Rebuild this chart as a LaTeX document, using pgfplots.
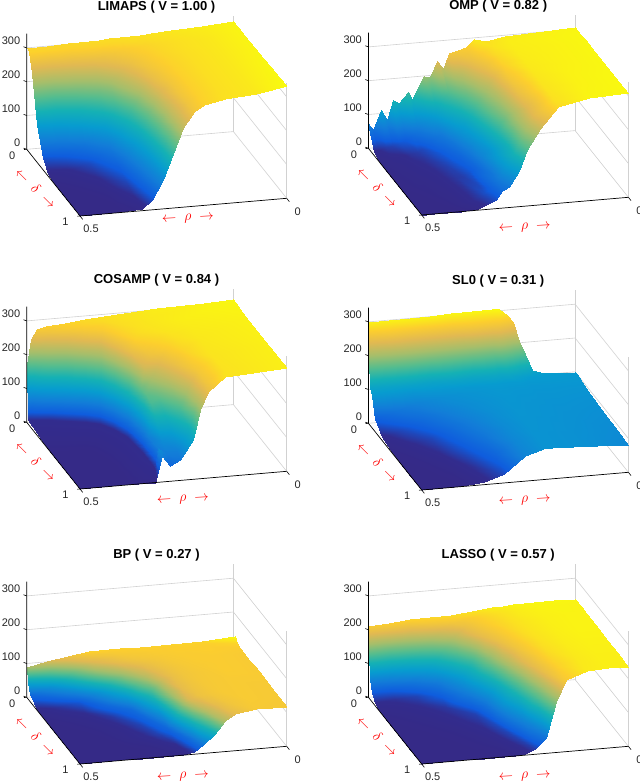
\documentclass[border=0pt]{standalone}
\usepackage{fontspec}
\setmainfont{Liberation Sans}
\usepackage{pgfplots}
\pgfplotsset{compat=1.18}
\definecolor{tk}{rgb}{0.15,0.15,0.15}
\definecolor{gl}{gray}{0.82}
\pgfplotsset{
 colormap={parula}{rgb255(0cm)=(53,42,135) rgb255(4cm)=(50,44,142) rgb255(11cm)=(15,92,221) rgb255(22cm)=(18,125,216) rgb255(33cm)=(7,156,207) rgb255(44cm)=(21,177,180) rgb255(55cm)=(89,189,140) rgb255(66cm)=(165,190,107) rgb255(78cm)=(225,185,82) rgb255(89cm)=(252,206,46) rgb255(100cm)=(249,251,14)},
 pan/.style={x={(206.7pt,17.7pt)},y={(-53.3pt,66.7pt)},z={(0pt,0.338pt)},
  xmin=0,xmax=1,ymin=0,ymax=1,zmin=0,zmax=342,clip=false,
  anchor=origin,colormap name=parula,
  xtick={0,1},xticklabels={0.5,0},ytick={0,1},yticklabels={1,0},ztick={0,100,200,300},
  axis line style={draw=none},tick style={draw=none},
  /pgf/number format/assume math mode=true,
  ticklabel style={font=\fontsize{11}{11}\selectfont,text=tk},
  xticklabel style={anchor=center,xshift=11pt,yshift=-13pt},
  yticklabel style={anchor=center,xshift=-14.5pt,yshift=-6pt},
  zticklabel style={anchor=east,xshift=-3pt,yshift=7pt},
  },
 sf/.style={surf,shader=interp,z buffer=sort,point meta=z},
}
\newcommand{\backbox}{%
 \addplot3[gl,line width=0.6pt] coordinates {(0,1,0)(1,1,0)(1,0,0)};
 \addplot3[gl,line width=0.6pt] coordinates {(0,1,100)(1,1,100)(1,0,100)};
 \addplot3[gl,line width=0.6pt] coordinates {(0,1,200)(1,1,200)(1,0,200)};
 \addplot3[gl,line width=0.6pt] coordinates {(0,1,300)(1,1,300)(1,0,300)};
 \addplot3[gl,line width=0.6pt] coordinates {(1,1,0)(1,1,342)};
 \addplot3[gl,line width=0.6pt] coordinates {(1,0,0)(1,0,342)};
}
\newcommand{\front}{%
 \addplot3[black,line width=0.7pt] coordinates {(1,0,0)(0,0,0)(0,1,0)(0,1,342)};
 \addplot3[black,line width=0.6pt] coordinates {(0,0,0)(0,-.05,0)};
 \addplot3[black,line width=0.6pt] coordinates {(1,0,0)(1,-.05,0)};
 \addplot3[black,line width=0.6pt] coordinates {(0,0,0)(-.013,0,0)};
 \addplot3[black,line width=0.6pt] coordinates {(0,1,0)(-.013,1,0)};
 \addplot3[black,line width=0.6pt] coordinates {(0,1,0)(-.01,1.02,0)};
 \addplot3[black,line width=0.6pt] coordinates {(0,1,100)(-.01,1.02,100)};
 \addplot3[black,line width=0.6pt] coordinates {(0,1,200)(-.01,1.02,200)};
 \addplot3[black,line width=0.6pt] coordinates {(0,1,300)(-.01,1.02,300)};
}
% #1,#2 origin in px, #3 title, #4,#5 rho label offset
\newcommand{\anno}[5]{%
 \node[font=\bfseries\fontsize{13}{13}\selectfont,text=black] at ({#1+76.5},{-#2+209}) {#3};
 \node[text=red,rotate=3,font=\fontsize{15}{15}\selectfont] at ({#1+#4},{-#2-#5-2}) {$\leftarrow\;\rho\;\rightarrow$};
 \node[text=red,rotate=-45,font=\fontsize{15}{15}\selectfont] at ({#1-44},{-#2+28}) {$\leftarrow\;\delta\;\rightarrow$};
}
\begin{document}
\begin{tikzpicture}[x=1pt,y=1pt]
\useasboundingbox (0,0) rectangle (640,-782);
% ---- LIMAPS
\begin{axis}[pan,at={(80pt,-216pt)},point meta max=331,point meta min=0]
\backbox
\addplot3[sf,mesh/cols=13] coordinates {
(0,0,0)(.1,0,0)(.2,0,0)(.3,0,4)(.35,0,30)(.4,0,85)(.45,0,160)(.5,0,235)(.55,0,280)(.6,0,298)(.7,0,310)(.85,0,316)(1,0,331)
(0,.15,0)(.1,.15,0)(.2,.15,1)(.3,.15,12)(.35,.15,45)(.4,.15,95)(.45,.15,165)(.5,.15,235)(.55,.15,278)(.6,.15,296)(.7,.15,308)(.85,.15,316)(1,.15,329)
(0,.3,0)(.1,.3,0)(.2,.3,4)(.3,.3,25)(.35,.3,60)(.4,.3,110)(.45,.3,175)(.5,.3,240)(.55,.3,280)(.6,.3,296)(.7,.3,308)(.85,.3,316)(1,.3,328)
(0,.45,0)(.1,.45,4)(.2,.45,12)(.3,.45,42)(.35,.45,80)(.4,.45,130)(.45,.45,195)(.5,.45,250)(.55,.45,282)(.6,.45,297)(.7,.45,308)(.85,.45,316)(1,.45,327)
(0,.6,6)(.1,.6,12)(.2,.6,28)(.3,.6,70)(.35,.6,115)(.4,.6,170)(.45,.6,230)(.5,.6,270)(.55,.6,288)(.6,.6,298)(.7,.6,308)(.85,.6,316)(1,.6,326)
(0,.7,32)(.1,.7,38)(.2,.7,65)(.3,.7,115)(.35,.7,160)(.4,.7,215)(.45,.7,255)(.5,.7,280)(.55,.7,292)(.6,.7,300)(.7,.7,308)(.85,.7,316)(1,.7,326)
(0,.8,110)(.1,.8,115)(.2,.8,145)(.3,.8,190)(.35,.8,220)(.4,.8,250)(.45,.8,272)(.5,.8,287)(.55,.8,296)(.6,.8,302)(.7,.8,309)(.85,.8,316)(1,.8,326)
(0,.85,165)(.1,.85,170)(.2,.85,195)(.3,.85,230)(.35,.85,250)(.4,.85,268)(.45,.85,282)(.5,.85,292)(.55,.85,298)(.6,.85,303)(.7,.85,309)(.85,.85,316)(1,.85,326)
(0,.9,245)(.1,.9,245)(.2,.9,255)(.3,.9,268)(.35,.9,276)(.4,.9,283)(.45,.9,290)(.5,.9,296)(.55,.9,300)(.6,.9,304)(.7,.9,310)(.85,.9,317)(1,.9,326)
(0,.95,298)(.1,.95,298)(.2,.95,298)(.3,.95,298)(.35,.95,300)(.4,.95,302)(.45,.95,303)(.5,.95,305)(.55,.95,306)(.6,.95,308)(.7,.95,312)(.85,.95,318)(1,.95,326)
(0,1,300)(.1,1,301)(.2,1,303)(.3,1,305)(.35,1,306)(.4,1,307)(.45,1,308)(.5,1,309)(.55,1,310)(.6,1,312)(.7,1,315)(.85,1,320)(1,1,326)
};
\front
\end{axis}
\anno{80}{216}{LIMAPS ( V = 1.00 )}{108}{1}
% ---- OMP
\begin{axis}[pan,at={(421.7pt,-215pt)},point meta max=310,point meta min=0]
\backbox
\addplot3[sf,mesh/cols=20] coordinates {
(0,0,0)(.02,0,0)(.06,0,0)(.09,0,0)(.12,0,0)(.15,0,0)(.19,0,0)(.21,0,1)(.27,0,3)(.3,0,10)(.33,0,18)(.36,0,27)(.39,0,50)(.42,0,62)(.47,0,105)(.51,0,165)(.57,0,225)(.66,0,285)(.81,0,305)(1,0,308)
(0,.1,0)(.02,.1,0)(.06,.1,0)(.09,.1,0)(.12,.1,0)(.15,.1,1)(.19,.1,3)(.21,.1,5)(.27,.1,12)(.3,.1,18)(.33,.1,28)(.36,.1,40)(.39,.1,62)(.42,.1,85)(.47,.1,135)(.51,.1,185)(.57,.1,245)(.66,.1,290)(.81,.1,304)(1,.1,308)
(0,.25,0)(.02,.25,0)(.06,.25,0)(.09,.25,1)(.12,.25,2)(.15,.25,3)(.19,.25,5)(.21,.25,7)(.27,.25,15)(.3,.25,22)(.33,.25,25)(.36,.25,48)(.39,.25,60)(.42,.25,95)(.47,.25,130)(.51,.25,195)(.57,.25,240)(.66,.25,292)(.81,.25,303)(1,.25,308)
(0,.4,0)(.02,.4,1)(.06,.4,2)(.09,.4,3)(.12,.4,3)(.15,.4,5)(.19,.4,7)(.21,.4,9)(.27,.4,18)(.3,.4,20)(.33,.4,30)(.36,.4,42)(.39,.4,75)(.42,.4,90)(.47,.4,150)(.51,.4,190)(.57,.4,255)(.66,.4,294)(.81,.4,303)(1,.4,307)
(0,.55,1)(.02,.55,2)(.06,.55,3)(.09,.55,4)(.12,.55,6)(.15,.55,7)(.19,.55,10)(.21,.55,13)(.27,.55,22)(.3,.55,30)(.33,.55,42)(.36,.55,62)(.39,.55,85)(.42,.55,110)(.47,.55,175)(.51,.55,205)(.57,.55,265)(.66,.55,296)(.81,.55,302)(1,.55,307)
(0,.7,2)(.02,.7,3)(.06,.7,5)(.09,.7,6)(.12,.7,8)(.15,.7,11)(.19,.7,15)(.21,.7,18)(.27,.7,32)(.3,.7,45)(.33,.7,62)(.36,.7,90)(.39,.7,110)(.42,.7,140)(.47,.7,195)(.51,.7,225)(.57,.7,278)(.66,.7,298)(.81,.7,302)(1,.7,307)
(0,.8,3)(.02,.8,4)(.06,.8,7)(.09,.8,9)(.12,.8,12)(.15,.8,16)(.19,.8,20)(.21,.8,25)(.27,.8,55)(.3,.8,65)(.33,.8,95)(.36,.8,120)(.39,.8,150)(.42,.8,175)(.47,.8,225)(.51,.8,250)(.57,.8,285)(.66,.8,299)(.81,.8,302)(1,.8,307)
(0,.9,8)(.02,.9,10)(.06,.9,20)(.09,.9,22)(.12,.9,30)(.15,.9,35)(.19,.9,50)(.21,.9,60)(.27,.9,100)(.3,.9,115)(.33,.9,150)(.36,.9,165)(.39,.9,200)(.42,.9,215)(.47,.9,255)(.51,.9,270)(.57,.9,292)(.66,.9,300)(.81,.9,303)(1,.9,307)
(0,1,74)(.02,1,53)(.06,1,110)(.09,1,80)(.12,1,137)(.15,1,126)(.19,1,156)(.21,1,134)(.27,1,200)(.3,1,194)(.33,1,242)(.36,1,216)(.39,1,263)(.42,1,267)(.47,1,274)(.51,1,297)(.57,1,289)(.66,1,299)(.81,1,302)(1,1,306)
};
\front
\end{axis}
\anno{421.7}{215}{OMP ( V = 0.82 )}{103}{11}
% ---- COSAMP
\begin{axis}[pan,at={(80pt,-489pt)},point meta max=315,point meta min=0]
\backbox
\addplot3[sf,mesh/cols=11] coordinates {
(0,0,0)(.2,0,0)(.363,0,0)(.395,0,76)(.435,0,44)(.484,0,61)(.548,0,117)(.58,0,204)(.62,0,255)(.7,0,296)(1,0,306)
(0,0,0)(.23,.036,0)(.385,.06,8)(.4,.062,85)(.44,.069,68)(.49,.076,72)(.55,.086,125)(.585,.09,210)(.63,.098,265)(.72,.11,296)(1,.156,306)
(0,0,0)(.24,.096,0)(.4,.16,10)(.415,.166,70)(.44,.176,85)(.49,.196,105)(.54,.216,165)(.58,.232,225)(.63,.252,270)(.72,.288,297)(1,.4,306)
(0,0,0)(.24,.186,0)(.4,.31,12)(.41,.318,70)(.43,.333,165)(.47,.364,175)(.52,.403,225)(.56,.434,258)(.62,.48,285)(.72,.558,300)(1,.775,308)
(0,0,0)(.24,.24,0)(.4,.4,12)(.41,.41,75)(.43,.43,175)(.47,.47,215)(.52,.52,255)(.56,.56,278)(.62,.62,295)(.72,.72,303)(1,1,312)
(0,0,0)(.24,.279,0)(.395,.46,12)(.405,.471,80)(.42,.488,180)(.44,.512,235)(.48,.558,262)(.53,.616,282)(.6,.698,298)(.7,.814,305)(.859,1,308)
(0,0,0)(.23,.365,0)(.384,.61,12)(.39,.619,90)(.4,.635,190)(.415,.659,255)(.44,.698,283)(.47,.746,292)(.5,.794,296)(.56,.889,300)(.63,1,304)
(0,0,0)(.21,.444,0)(.35,.74,12)(.354,.748,90)(.36,.761,180)(.37,.782,250)(.385,.814,280)(.4,.846,287)(.42,.888,292)(.45,.951,296)(.473,1,298)
(0,0,0)(.19,.505,0)(.312,.83,12)(.315,.838,90)(.32,.851,180)(.33,.878,255)(.34,.904,278)(.35,.931,285)(.36,.958,290)(.37,.984,293)(.376,1,295)
(0,0,0)(.15,.528,0)(.25,.88,12)(.252,.887,90)(.256,.901,180)(.262,.922,255)(.267,.94,275)(.272,.958,283)(.277,.975,287)(.281,.989,289)(.284,1,290)
(0,0,0)(.1,.535,0)(.172,.92,12)(.173,.926,90)(.175,.936,170)(.178,.952,240)(.18,.963,265)(.182,.974,276)(.184,.984,281)(.186,.995,284)(.187,1,285)
(0,0,0)(.05,.53,0)(.09,.95,12)(.09,.955,80)(.091,.962,150)(.092,.97,215)(.093,.978,245)(.093,.984,262)(.094,.99,272)(.094,.996,278)(.095,1,280)
(0,0,0)(.03,.53,0)(.045,.965,12)(.045,.969,70)(.046,.974,140)(.047,.98,200)(.047,.985,235)(.048,.989,252)(.049,.993,262)(.05,.997,268)(.05,1,272)
(0,0,0)(.01,.53,0)(.02,.972,12)(.02,.976,60)(.02,.98,115)(.02,.984,165)(.02,.988,200)(.02,.991,220)(.02,.994,232)(.02,.997,240)(.02,1,245)
(0,0,0)(0,.6,0)(0,.975,12)(0,.98,50)(0,.983,80)(0,.986,100)(0,.989,120)(0,.992,135)(0,.995,150)(0,.998,160)(0,1,170)
};
\front
\end{axis}
\anno{80}{489}{COSAMP ( V = 0.84 )}{103}{9}
% ---- SL0
\begin{axis}[pan,at={(421.7pt,-490pt)},point meta max=308,point meta min=0]
\backbox
\addplot3[sf,mesh/cols=15] coordinates {
(0,0,0)(.1,0,0)(.2,0,0)(.3,0,8)(.4,0,25)(.5,0,75)(.6,0,92)(.63,0,92)(.67,0,91)(.7,0,91)(.73,0,90)(.76,0,89)(.79,0,89)(.85,0,87)(1,0,80)
(0,.2,0)(.1,.2,0)(.2,.2,3)(.3,.2,15)(.4,.2,42)(.5,.2,78)(.6,.2,92)(.63,.2,92)(.67,.2,91)(.7,.2,91)(.73,.2,90)(.76,.2,90)(.79,.2,89)(.85,.2,88)(1,.2,83)
(0,.4,0)(.1,.4,2)(.2,.4,9)(.3,.4,32)(.4,.4,60)(.5,.4,83)(.6,.4,93)(.63,.4,93)(.67,.4,92)(.7,.4,92)(.73,.4,91)(.76,.4,91)(.79,.4,90)(.85,.4,89)(1,.4,86)
(0,.6,2)(.1,.6,9)(.2,.6,24)(.3,.6,52)(.4,.6,73)(.5,.6,87)(.6,.6,94)(.63,.6,94)(.67,.6,93)(.7,.6,93)(.73,.6,92)(.76,.6,92)(.79,.6,91)(.85,.6,91)(1,.6,89)
(0,.75,8)(.1,.75,25)(.2,.75,47)(.3,.75,70)(.4,.75,83)(.5,.75,90)(.6,.75,95)(.63,.75,95)(.67,.75,94)(.7,.75,94)(.73,.75,94)(.76,.75,93)(.79,.75,93)(.85,.75,93)(1,.75,92)
(0,.87,38)(.1,.87,58)(.2,.87,72)(.3,.87,84)(.4,.87,90)(.5,.87,94)(.6,.87,97)(.63,.87,97)(.67,.87,96)(.7,.87,96)(.73,.87,96)(.76,.87,95)(.79,.87,95)(.85,.87,95)(1,.87,95)
(0,.93,95)(.1,.93,95)(.2,.93,92)(.3,.93,95)(.4,.93,97)(.5,.93,98)(.6,.93,100)(.63,.93,100)(.67,.93,100)(.7,.93,100)(.73,.93,99)(.76,.93,98)(.79,.93,98)(.85,.93,98)(1,.93,97)
(0,.97,114)(.1,.97,112)(.2,.97,110)(.3,.97,112)(.4,.97,114)(.5,.97,116)(.6,.97,118)(.63,.97,118)(.67,.97,118)(.7,.97,110)(.73,.97,108)(.76,.97,103)(.79,.97,101)(.85,.97,100)(1,.97,98)
(0,.98,191)(.1,.98,190)(.2,.98,188)(.3,.98,188)(.4,.98,188)(.5,.98,188)(.6,.98,188)(.63,.98,185)(.67,.98,165)(.7,.98,140)(.73,.98,125)(.76,.98,110)(.79,.98,103)(.85,.98,101)(1,.98,99)
(0,.99,265)(.1,.99,265)(.2,.99,262)(.3,.99,262)(.4,.99,262)(.5,.99,262)(.6,.99,262)(.63,.99,255)(.67,.99,225)(.7,.99,190)(.73,.99,150)(.76,.99,125)(.79,.99,108)(.85,.99,102)(1,.99,99)
(0,1,300)(.1,1,301)(.2,1,302)(.3,1,303)(.4,1,304)(.5,1,305)(.6,1,306)(.63,1,306)(.67,1,285)(.7,1,263)(.73,1,205)(.76,1,164)(.79,1,117)(.85,1,103)(1,1,100)
};
\front
\end{axis}
\anno{421.7}{490}{SL0 ( V = 0.31 )}{103}{9}
% ---- BP
\begin{axis}[pan,at={(80pt,-764pt)},point meta max=135,point meta min=0]
\backbox
\addplot3[sf,mesh/cols=14] coordinates {
(0,0,0)(.1,0,0)(.2,0,0)(.3,0,0)(.4,0,0)(.45,0,0)(.5,0,0)(.55,0,8)(.6,0,28)(.65,0,52)(.7,0,92)(.75,0,108)(.85,0,117)(1,0,116)
(0,.15,0)(.1,.15,0)(.2,.15,0)(.3,.15,0)(.4,.15,1)(.45,.15,3)(.5,.15,6)(.55,.15,22)(.6,.15,62)(.65,.15,95)(.7,.15,108)(.75,.15,114)(.85,.15,118)(1,.15,117)
(0,.3,0)(.1,.3,0)(.2,.3,0)(.3,.3,2)(.4,.3,6)(.45,.3,10)(.5,.3,20)(.55,.3,65)(.6,.3,103)(.65,.3,112)(.7,.3,115)(.75,.3,117)(.85,.3,118)(1,.3,117)
(0,.45,0)(.1,.45,0)(.2,.45,1)(.3,.45,3)(.4,.45,10)(.45,.45,20)(.5,.45,40)(.55,.45,85)(.6,.45,108)(.65,.45,113)(.7,.45,116)(.75,.45,117)(.85,.45,118)(1,.45,118)
(0,.6,0)(.1,.6,1)(.2,.6,3)(.3,.6,8)(.4,.6,22)(.45,.6,45)(.5,.6,70)(.55,.6,100)(.6,.6,110)(.65,.6,114)(.7,.6,116)(.75,.6,117)(.85,.6,119)(1,.6,118)
(0,.7,1)(.1,.7,3)(.2,.7,6)(.3,.7,20)(.4,.7,50)(.45,.7,75)(.5,.7,95)(.55,.7,106)(.6,.7,112)(.65,.7,115)(.7,.7,117)(.75,.7,118)(.85,.7,119)(1,.7,118)
(0,.8,3)(.1,.8,7)(.2,.8,14)(.3,.8,40)(.4,.8,85)(.45,.8,100)(.5,.8,108)(.55,.8,112)(.6,.8,115)(.65,.8,117)(.7,.8,118)(.75,.8,119)(.85,.8,119)(1,.8,118)
(0,.87,10)(.1,.87,18)(.2,.87,35)(.3,.87,85)(.4,.87,108)(.45,.87,112)(.5,.87,114)(.55,.87,116)(.6,.87,117)(.65,.87,118)(.7,.87,119)(.75,.87,119)(.85,.87,120)(1,.87,119)
(0,.93,20)(.1,.93,38)(.2,.93,75)(.3,.93,104)(.4,.93,114)(.45,.93,116)(.5,.93,117)(.55,.93,118)(.6,.93,119)(.65,.93,119)(.7,.93,120)(.75,.93,120)(.85,.93,120)(1,.93,122)
(0,.97,48)(.1,.97,75)(.2,.97,105)(.3,.97,115)(.4,.97,118)(.45,.97,119)(.5,.97,119)(.55,.97,120)(.6,.97,120)(.65,.97,120)(.7,.97,120)(.75,.97,121)(.85,.97,121)(1,.97,135)
(0,1,90)(.1,1,102)(.2,1,112)(.3,1,122)(.4,1,121)(.45,1,121)(.5,1,121)(.55,1,121)(.6,1,121)(.65,1,122)(.7,1,122)(.75,1,122)(.85,1,122)(1,1,120)
};
\front
\end{axis}
\anno{80}{764}{BP ( V = 0.27 )}{103}{11}
% ---- LASSO
\begin{axis}[pan,at={(421.7pt,-764pt)},point meta max=243,point meta min=0]
\backbox
\addplot3[sf,mesh/cols=14] coordinates {
(0,0,0)(.1,0,0)(.2,0,0)(.3,0,0)(.4,0,0)(.45,0,1)(.5,0,3)(.55,0,15)(.6,0,45)(.65,0,150)(.7,0,212)(.8,0,233)(.9,0,236)(1,0,236)
(0,.2,0)(.1,.2,0)(.2,.2,0)(.3,.2,1)(.4,.2,3)(.45,.2,8)(.5,.2,18)(.55,.2,62)(.6,.2,128)(.65,.2,198)(.7,.2,218)(.8,.2,232)(.9,.2,236)(1,.2,236)
(0,.4,0)(.1,.4,0)(.2,.4,1)(.3,.4,3)(.4,.4,10)(.45,.4,20)(.5,.4,75)(.55,.4,112)(.6,.4,190)(.65,.4,212)(.7,.4,225)(.8,.4,234)(.9,.4,237)(1,.4,237)
(0,.55,0)(.1,.55,1)(.2,.55,3)(.3,.55,8)(.4,.55,17)(.45,.55,50)(.5,.55,95)(.55,.55,170)(.6,.55,205)(.65,.55,220)(.7,.55,228)(.8,.55,235)(.9,.55,238)(1,.55,238)
(0,.7,1)(.1,.7,3)(.2,.7,7)(.3,.7,14)(.4,.7,55)(.45,.7,95)(.5,.7,150)(.55,.7,200)(.6,.7,215)(.65,.7,225)(.7,.7,230)(.8,.7,236)(.9,.7,238)(1,.7,238)
(0,.8,3)(.1,.8,6)(.2,.8,12)(.3,.8,28)(.4,.8,82)(.45,.8,120)(.5,.8,195)(.55,.8,210)(.6,.8,220)(.65,.8,227)(.7,.8,231)(.8,.8,236)(.9,.8,238)(1,.8,238)
(0,.88,8)(.1,.88,12)(.2,.88,18)(.3,.88,50)(.4,.88,125)(.45,.88,190)(.5,.88,207)(.55,.88,216)(.6,.88,223)(.65,.88,229)(.7,.88,233)(.8,.88,237)(.9,.88,239)(1,.88,238)
(0,.94,25)(.1,.94,28)(.2,.94,45)(.3,.94,100)(.4,.94,170)(.45,.94,200)(.5,.94,212)(.55,.94,220)(.6,.94,226)(.65,.94,230)(.7,.94,234)(.8,.94,238)(.9,.94,239)(1,.94,238)
(0,.97,60)(.1,.97,70)(.2,.97,95)(.3,.97,165)(.4,.97,205)(.45,.97,210)(.5,.97,216)(.55,.97,223)(.6,.97,228)(.65,.97,232)(.7,.97,236)(.8,.97,239)(.9,.97,240)(1,.97,239)
(0,.985,135)(.1,.985,140)(.2,.985,170)(.3,.985,205)(.4,.985,215)(.45,.985,218)(.5,.985,221)(.55,.985,226)(.6,.985,231)(.65,.985,234)(.7,.985,238)(.8,.985,240)(.9,.985,240)(1,.985,239)
(0,1,212)(.1,1,216)(.2,1,220)(.3,1,222)(.4,1,224)(.45,1,226)(.5,1,228)(.55,1,232)(.6,1,235)(.65,1,237)(.7,1,240)(.8,1,241)(.9,1,241)(1,1,239)
};
\front
\end{axis}
\anno{421.7}{764}{LASSO ( V = 0.57 )}{103}{11}
\end{tikzpicture}
\end{document}
